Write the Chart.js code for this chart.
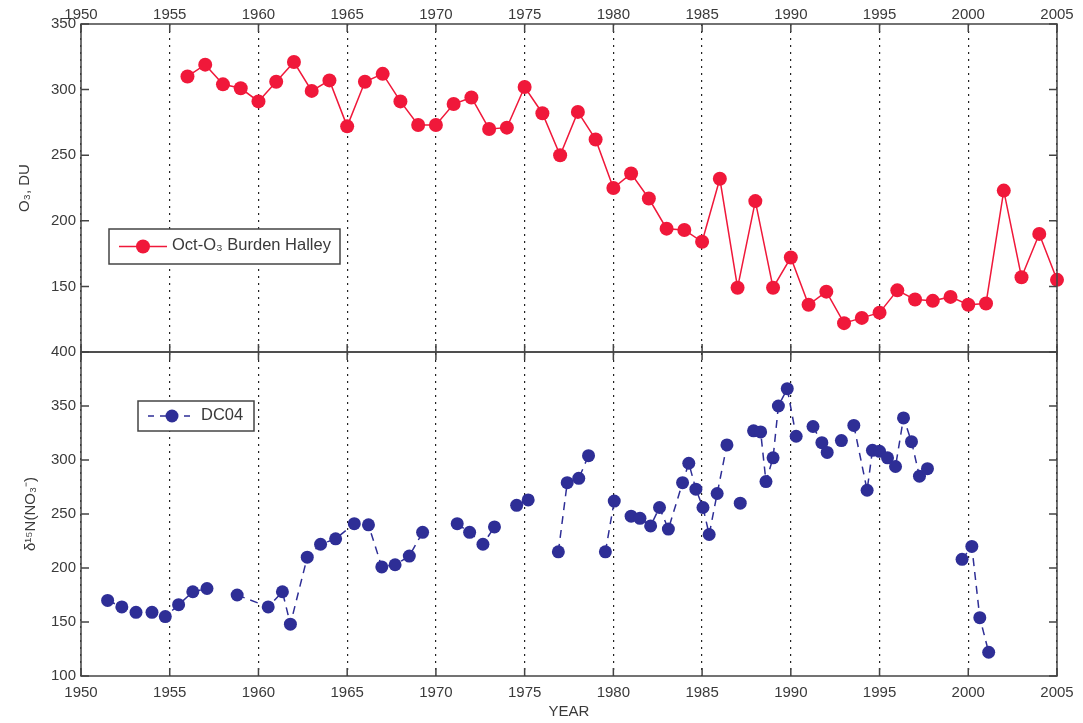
<!DOCTYPE html>
<html>
<head>
<meta charset="utf-8">
<script src="https://cdn.jsdelivr.net/npm/chart.js@4.4.1/dist/chart.umd.min.js"></script>
<style>
  html, body { margin: 0; padding: 0; background: #fff; }
  #wrap { width: 1083px; height: 723px; position: relative; }
</style>
</head>
<body>
<div id="wrap"><canvas id="ozoneChart"></canvas></div>
<script>
// October ozone burden at Halley (top panel)
var ozoneYears = [1956, 1957, 1958, 1959, 1960, 1961, 1962, 1963, 1964, 1965, 1966, 1967, 1968, 1969, 1970,
    1971, 1972, 1973, 1974, 1975, 1976, 1977, 1978, 1979, 1980, 1981, 1982, 1983, 1984, 1985,
    1986, 1987, 1988, 1989, 1990, 1991, 1992, 1993, 1994, 1995, 1996, 1997, 1998, 1999, 2000,
    2001, 2002, 2003, 2004, 2005];
var ozoneValues = [310, 319, 304, 301, 291, 306, 321, 299, 307, 272, 306, 312, 291, 273, 273,
    289, 294, 270, 271, 302, 282, 250, 283, 262, 225, 236, 217, 194, 193, 184,
    232, 149, 215, 149, 172, 136, 146, 122, 126, 130, 147, 140, 139, 142, 136,
    137, 223, 157, 190, 155];

// DC04 delta 15N of nitrate (bottom panel), null = break in the line
var dcYears = [1951.5, 1952.3, 1953.1, 1954.0, 1954.75, 1955.5, 1956.3, 1957.1, null,
    1958.8, 1960.55, 1961.35, 1961.8, 1962.75, 1963.5, 1964.35, 1965.4, 1966.2, 1966.95, 1967.7, 1968.5, 1969.25, null,
    1971.2, 1971.9, 1972.65, 1973.3, null,
    1974.55, 1975.2, null,
    1976.9, 1977.4, 1978.05, 1978.6, null,
    1979.55, 1980.05, null,
    1981.0, 1981.5, 1982.1, 1982.6, 1983.1, 1983.9, 1984.25, 1984.65, 1985.05, 1985.4, 1985.85, 1986.4, null,
    1987.15, null,
    1987.9, 1988.3, 1988.6, 1989.0, 1989.3, 1989.8, 1990.3, null,
    1991.25, 1991.75, 1992.05, null,
    1992.85, null,
    1993.55, 1994.3, 1994.6, 1995.0, 1995.45, 1995.9, 1996.35, 1996.8, 1997.25, 1997.7, null,
    1999.65, 2000.2, 2000.65, 2001.15];
var dcValues = [170, 164, 159, 159, 155, 166, 178, 181, null,
    175, 164, 178, 148, 210, 222, 227, 241, 240, 201, 203, 211, 233, null,
    241, 233, 222, 238, null,
    258, 263, null,
    215, 279, 283, 304, null,
    215, 262, null,
    248, 246, 239, 256, 236, 279, 297, 273, 256, 231, 269, 314, null,
    260, null,
    327, 326, 280, 302, 350, 366, 322, null,
    331, 316, 307, null,
    318, null,
    332, 272, 309, 308, 302, 294, 339, 317, 285, 292, null,
    208, 220, 154, 122];

var xTicks = [1950, 1955, 1960, 1965, 1970, 1975, 1980, 1985, 1990, 1995, 2000, 2005];
var ozoneTicks = [100, 150, 200, 250, 300, 350];
var dcTicks = [100, 150, 200, 250, 300, 350, 400];

var ozoneLabel = 'Oct-O\u2083 Burden Halley';
var dcLabel = 'DC04';

var RED = '#f0183a';
var BLUE = '#2e2e96';
var FRAME = '#444444';
var TEXT = '#3a3a3a';
var FONT = "'Liberation Sans', Arial, Helvetica, sans-serif";

function pairs(xs, ys) {
    return xs.map(function (x, i) { return { x: x, y: ys[i] }; });
}

// frames, inward tick marks and the in-plot legends
var framePlugin = {
    id: 'framePlugin',
    afterDraw: function (chart) {
        var ctx = chart.ctx;
        var area = chart.chartArea;
        var sx = chart.scales.x;
        var panels = [chart.scales.yOzone, chart.scales.yDc];
        var tl = 8;
        ctx.save();
        ctx.strokeStyle = FRAME;
        ctx.lineWidth = 1.5;
        panels.forEach(function (ys) {
            ctx.strokeRect(area.left, ys.top, area.right - area.left, ys.bottom - ys.top);
            ctx.beginPath();
            ys.ticks.forEach(function (t) {
                var py = ys.getPixelForValue(t.value);
                ctx.moveTo(area.left, py); ctx.lineTo(area.left + tl, py);
                ctx.moveTo(area.right, py); ctx.lineTo(area.right - tl, py);
            });
            sx.ticks.forEach(function (t) {
                var px = sx.getPixelForValue(t.value);
                ctx.moveTo(px, ys.top); ctx.lineTo(px, ys.top + tl);
                ctx.moveTo(px, ys.bottom); ctx.lineTo(px, ys.bottom - tl);
            });
            ctx.stroke();
        });

        function legendBox(x, y, w, h, color, dash, radius, label) {
            ctx.save();
            ctx.fillStyle = '#ffffff';
            ctx.fillRect(x, y, w, h);
            ctx.strokeStyle = FRAME;
            ctx.lineWidth = 1.5;
            ctx.strokeRect(x, y, w, h);
            var cy = y + h / 2;
            ctx.strokeStyle = color;
            ctx.lineWidth = 1.5;
            ctx.setLineDash(dash);
            ctx.beginPath();
            ctx.moveTo(x + 10, cy);
            ctx.lineTo(x + 58, cy);
            ctx.stroke();
            ctx.setLineDash([]);
            ctx.fillStyle = color;
            ctx.beginPath();
            ctx.arc(x + 34, cy, radius, 0, Math.PI * 2);
            ctx.fill();
            ctx.fillStyle = TEXT;
            ctx.font = '16.5px ' + FONT;
            ctx.textBaseline = 'middle';
            ctx.fillText(label, x + 63, cy - 1);
            ctx.restore();
        }
        var yo = chart.scales.yOzone, yd = chart.scales.yDc;
        legendBox(area.left + 28, yo.top + 205, 231, 35, RED, [], 7, ozoneLabel);
        legendBox(area.left + 57, yd.top + 49, 116, 30, BLUE, [6, 6], 6.5, dcLabel);
        ctx.restore();
    }
};

var ctx = document.getElementById('ozoneChart').getContext('2d');
var chart = new Chart(ctx, {
    type: 'line',
    data: {
        datasets: [
            {
                label: dcLabel,
                data: pairs(dcYears, dcValues),
                yAxisID: 'yDc',
                borderColor: BLUE,
                backgroundColor: BLUE,
                borderWidth: 1.5,
                borderDash: [8, 6],
                pointRadius: 6.5,
                pointBorderWidth: 0,
                pointHoverRadius: 6.5,
                spanGaps: false,
                clip: false,
                tension: 0
            },
            {
                label: ozoneLabel,
                data: pairs(ozoneYears, ozoneValues),
                yAxisID: 'yOzone',
                borderColor: RED,
                backgroundColor: RED,
                borderWidth: 1.5,
                pointRadius: 7,
                pointBorderWidth: 0,
                pointHoverRadius: 7,
                clip: false,
                tension: 0
            }
        ]
    },
    options: {
        responsive: true,
        maintainAspectRatio: false,
        animation: false,
        layout: { padding: { left: 0, right: 26, top: 0, bottom: 0 } },
        plugins: {
            legend: { display: false },
            tooltip: { enabled: false }
        },
        scales: {
            x: {
                type: 'linear',
                position: 'bottom',
                min: 1950,
                max: 2005,
                afterBuildTicks: function (s) { s.ticks = xTicks.map(function (v) { return { value: v }; }); },
                afterFit: function (s) { s.height = 47; },
                ticks: {
                    autoSkip: false,
                    maxRotation: 0,
                    padding: 8,
                    color: TEXT,
                    font: { family: FONT, size: 15 },
                    callback: function (v) { return String(v); }
                },
                grid: {
                    color: '#222222',
                    lineWidth: 1.2,
                    drawTicks: false,
                    tickBorderDash: [2, 5]
                },
                border: { display: false, dash: [2, 5] },
                title: {
                    display: true,
                    text: 'YEAR',
                    color: TEXT,
                    font: { family: FONT, size: 15 },
                    padding: { top: 0, bottom: 2 }
                }
            },
            xTop: {
                type: 'linear',
                position: 'top',
                min: 1950,
                max: 2005,
                afterBuildTicks: function (s) { s.ticks = xTicks.map(function (v) { return { value: v }; }); },
                afterFit: function (s) { s.height = 24; },
                ticks: {
                    autoSkip: false,
                    maxRotation: 0,
                    padding: 0,
                    color: TEXT,
                    font: { family: FONT, size: 15 },
                    callback: function (v) { return String(v); }
                },
                grid: { display: false, drawTicks: false },
                border: { display: false }
            },
            yDc: {
                type: 'linear',
                position: 'left',
                stack: 'panels',
                stackWeight: 324,
                min: 100,
                max: 400,
                afterBuildTicks: function (s) { s.ticks = dcTicks.map(function (v) { return { value: v }; }); },
                afterFit: function (s) { s.width = 81; },
                ticks: {
                    padding: 5,
                    color: TEXT,
                    font: { family: FONT, size: 15 },
                    callback: function (v) { return String(v); }
                },
                grid: { display: false, drawTicks: false },
                border: { display: false },
                title: {
                    display: true,
                    text: '\u03b4\u00b9\u2075N(NO\u2083\u207b)',
                    color: TEXT,
                    font: { family: FONT, size: 15 },
                    padding: { top: 22, bottom: 0 }
                }
            },
            yOzone: {
                type: 'linear',
                position: 'left',
                stack: 'panels',
                stackWeight: 328,
                min: 100,
                max: 350,
                afterBuildTicks: function (s) { s.ticks = ozoneTicks.map(function (v) { return { value: v }; }); },
                afterFit: function (s) { s.width = 81; },
                ticks: {
                    padding: 5,
                    color: TEXT,
                    font: { family: FONT, size: 15 },
                    // the 100 label would sit under the 400 of the lower panel
                    callback: function (v) { return v === 100 ? '' : String(v); }
                },
                grid: { display: false, drawTicks: false },
                border: { display: false },
                title: {
                    display: true,
                    text: 'O\u2083, DU',
                    color: TEXT,
                    font: { family: FONT, size: 15 },
                    padding: { top: 16, bottom: 0 }
                }
            }
        }
    },
    plugins: [framePlugin]
});
</script>
</body>
</html>
